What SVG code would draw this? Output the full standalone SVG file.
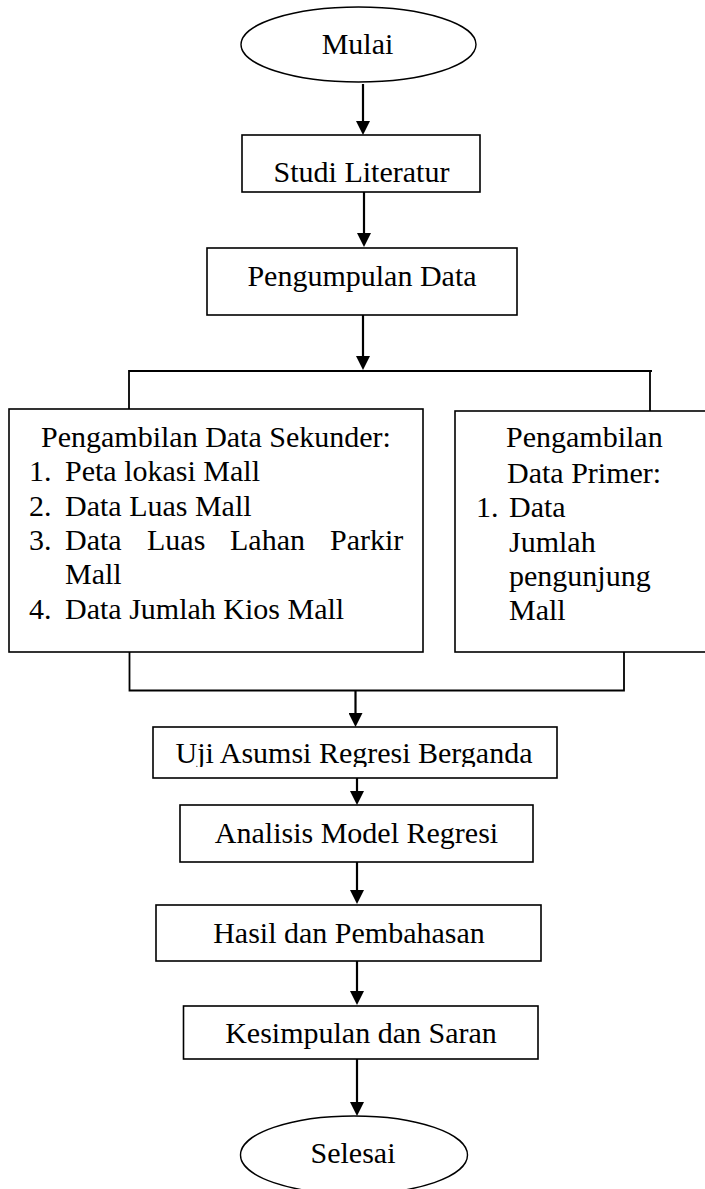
<svg xmlns="http://www.w3.org/2000/svg" width="705" height="1189" viewBox="0 0 705 1189">
<style>
.box{fill:#fff;stroke:#000;stroke-width:1.6}
.term{fill:#fff;stroke:#000;stroke-width:1.4}
.t{font-family:"Liberation Serif","Times New Roman",serif;font-size:30px;fill:#000}
.c{text-anchor:middle}
.ln{fill:none;stroke:#000;stroke-width:1.8}
.ar{fill:none;stroke:#000;stroke-width:2.2}
</style>
<defs>
<marker id="ah" viewBox="0 0 14 14" refX="10" refY="7" markerWidth="14" markerHeight="14" markerUnits="userSpaceOnUse" orient="auto">
<path d="M0,0 L14,7 L0,14 z" fill="#000"/>
</marker>
<clipPath id="clipUji"><rect x="150" y="727" width="410" height="40"/></clipPath>
</defs>
<rect width="705" height="1189" fill="#fff"/>
<g id="connectors">
<path class="ar" d="M363,84 V131" marker-end="url(#ah)"/>
<path class="ar" d="M364,192 V243" marker-end="url(#ah)"/>
<path class="ar" d="M363,315 V366" marker-end="url(#ah)"/>
<path class="ln" d="M129,409 V371 H652 M650,371 V411"/>
<path class="ln" d="M129.5,652 V690.5 H624 V652"/>
<path class="ar" d="M355.5,690.5 V723" marker-end="url(#ah)"/>
<path class="ar" d="M357,778 V801" marker-end="url(#ah)"/>
<path class="ar" d="M357,862 V900" marker-end="url(#ah)"/>
<path class="ar" d="M357,961 V1001" marker-end="url(#ah)"/>
<path class="ar" d="M357,1059 V1112" marker-end="url(#ah)"/>
</g>
<g id="mulai">
<ellipse class="term" cx="358.5" cy="44.5" rx="117.5" ry="37.5"/>
<text class="t c" x="357.5" y="54">Mulai</text>
</g>
<g id="studi-literatur">
<rect class="box" x="242" y="135" width="238" height="57"/>
<text class="t c" x="361.5" y="182">Studi Literatur</text>
</g>
<g id="pengumpulan-data">
<rect class="box" x="207" y="248" width="310" height="67"/>
<text class="t c" x="362" y="286">Pengumpulan Data</text>
</g>
<g id="data-sekunder">
<rect class="box" x="9" y="409" width="414" height="243"/>
<text class="t" x="41" y="447">Pengambilan Data Sekunder:</text>
<text class="t" x="29" y="481">1.</text><text class="t" x="65" y="481">Peta lokasi Mall</text>
<text class="t" x="29" y="515.5">2.</text><text class="t" x="65" y="515.5">Data Luas Mall</text>
<text class="t" x="29" y="550">3.</text><text class="t" y="550"><tspan x="65">Data</tspan><tspan x="147">Luas</tspan><tspan x="230">Lahan</tspan><tspan x="330">Parkir</tspan></text>
<text class="t" x="65" y="584">Mall</text>
<text class="t" x="29" y="618.5">4.</text><text class="t" x="65" y="618.5">Data Jumlah Kios Mall</text>
</g>
<g id="data-primer">
<rect class="box" x="455" y="411" width="262" height="241"/>
<text class="t" x="506" y="447">Pengambilan</text>
<text class="t" x="507" y="482.5">Data Primer:</text>
<text class="t" x="476" y="517">1.</text><text class="t" x="509" y="517">Data</text>
<text class="t" x="509" y="551.5">Jumlah</text>
<text class="t" x="509" y="585.5">pengunjung</text>
<text class="t" x="509" y="620">Mall</text>
</g>
<g id="uji-asumsi">
<rect class="box" x="153" y="727" width="404" height="51"/>
<text class="t c" x="354" y="763" clip-path="url(#clipUji)">Uji Asumsi Regresi Berganda</text>
</g>
<g id="analisis-model">
<rect class="box" x="180" y="805" width="353" height="57"/>
<text class="t c" x="356.5" y="843">Analisis Model Regresi</text>
</g>
<g id="hasil-pembahasan">
<rect class="box" x="156" y="905" width="385" height="56"/>
<text class="t c" x="349" y="943">Hasil dan Pembahasan</text>
</g>
<g id="kesimpulan-saran">
<rect class="box" x="183.5" y="1006" width="354.5" height="53"/>
<text class="t c" x="361" y="1043">Kesimpulan dan Saran</text>
</g>
<g id="selesai">
<ellipse class="term" cx="354" cy="1155" rx="113.5" ry="39"/>
<text class="t c" x="353" y="1163">Selesai</text>
</g>
</svg>
